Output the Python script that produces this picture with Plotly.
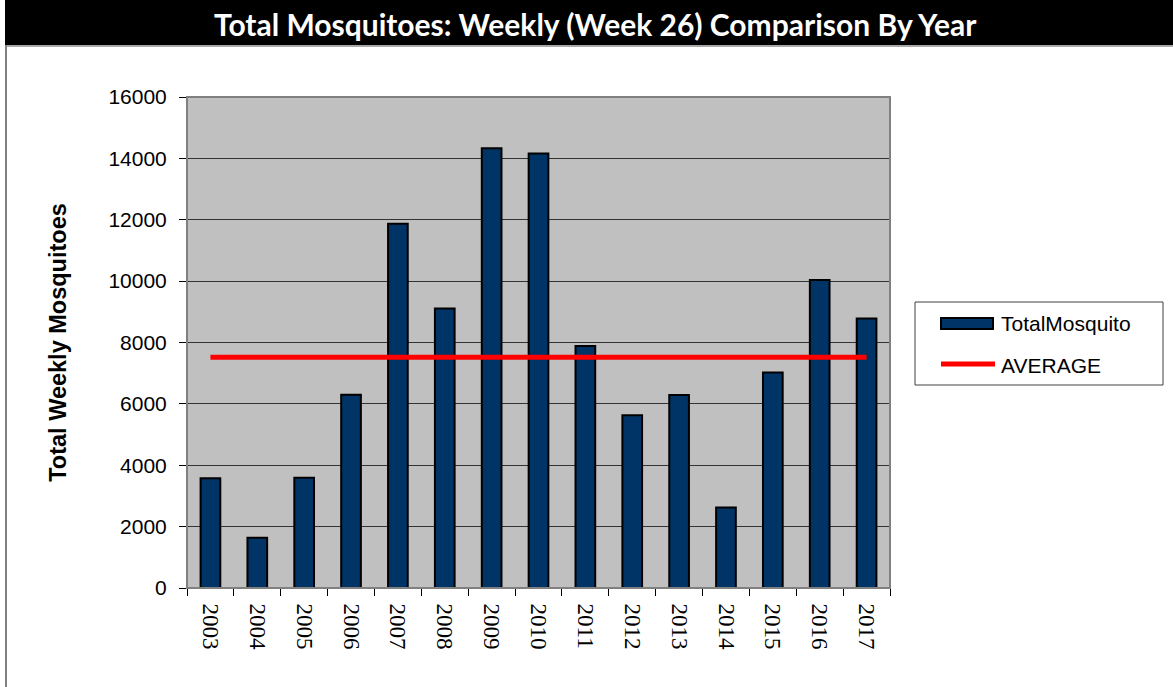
import plotly.graph_objects as go

years = ["2003", "2004", "2005", "2006", "2007", "2008", "2009", "2010",
         "2011", "2012", "2013", "2014", "2015", "2016", "2017"]
total_mosquito = [3580, 1640, 3590, 6300, 11870, 9110, 14330, 14160,
                  7890, 5630, 6290, 2620, 7020, 10040, 8780]
average = [7520] * len(years)

title_text = "Total Mosquitoes: Weekly (Week 26) Comparison By Year"
y_title = "Total Weekly Mosquitoes"
y_ticks = [0, 2000, 4000, 6000, 8000, 10000, 12000, 14000, 16000]

W_PX, H_PX = 1173, 687
L, R, T, B = 187, 890, 97, 588
PW, PH = R - L, B - T


def px(x):
    return (x - L) / PW


def py(y):
    return (B - y) / PH


fig = go.Figure()
fig.add_trace(go.Bar(
    x=years, y=total_mosquito, name="TotalMosquito",
    marker=dict(color="#003366", line=dict(color="#000000", width=2)),
))
fig.add_trace(go.Scatter(
    x=years, y=average, name="AVERAGE", mode="lines",
    line=dict(color="#FF0000", width=5),
))

shapes = [
    # title band
    dict(type="rect", xref="paper", yref="paper", x0=px(5), x1=px(1173),
         y0=py(45), y1=py(0), fillcolor="#000000", line=dict(width=0), layer="above"),
    dict(type="line", xref="paper", yref="paper", x0=px(5), x1=px(1173),
         y0=py(46), y1=py(46), line=dict(color="#A8A8A8", width=2)),
    # outer frame left
    dict(type="line", xref="paper", yref="paper", x0=px(6), x1=px(6),
         y0=py(45), y1=py(687), line=dict(color="#808080", width=2)),
    # plot border
    dict(type="rect", xref="paper", yref="paper", x0=0, x1=1, y0=0, y1=1,
         line=dict(color="#808080", width=2), layer="above"),
    # legend box
    dict(type="rect", xref="paper", yref="paper", x0=px(915), x1=px(1163),
         y0=py(385), y1=py(302), fillcolor="#FFFFFF", line=dict(color="#404040", width=1)),
    dict(type="rect", xref="paper", yref="paper", x0=px(941), x1=px(993),
         y0=py(329), y1=py(318), fillcolor="#003366", line=dict(color="#000000", width=2)),
    dict(type="line", xref="paper", yref="paper", x0=px(941), x1=px(995),
         y0=py(364), y1=py(364), line=dict(color="#FF0000", width=5)),
]

annotations = [
    dict(text="<b>" + title_text + "</b>", xref="paper", yref="paper",
         x=px(595), y=py(24), xanchor="center", yanchor="middle", showarrow=False,
         font=dict(family="Lato", size=30, color="#FFFFFF")),
    dict(text="TotalMosquito", xref="paper", yref="paper", x=px(999), y=py(323),
         xanchor="left", yanchor="middle", showarrow=False,
         font=dict(family="Liberation Sans", size=21, color="#000000")),
    dict(text="AVERAGE", xref="paper", yref="paper", x=px(999), y=py(365),
         xanchor="left", yanchor="middle", showarrow=False,
         font=dict(family="Liberation Sans", size=21, color="#000000")),
]

fig.update_layout(
    width=W_PX, height=H_PX, autosize=False,
    margin=dict(l=L, r=W_PX - R, t=T, b=H_PX - B, pad=0),
    paper_bgcolor="#FFFFFF", plot_bgcolor="#C0C0C0",
    showlegend=False, bargap=0.58,
    shapes=shapes, annotations=annotations,
    font=dict(family="Liberation Sans", color="#000000"),
)
fig.update_xaxes(
    type="category", tickson="boundaries", ticks="outside", ticklen=7,
    tickcolor="#000000", tickangle=90, showline=True, linecolor="#000000",
    linewidth=1, showgrid=False, automargin=False, ticklabelstandoff=10,
    tickfont=dict(family="Liberation Serif", size=23, color="#000000"),
)
fig.update_yaxes(
    range=[0, 16000], tickvals=y_ticks, tickformat="d", ticks="outside", ticklen=7,
    tickcolor="#000000", showline=True, linecolor="#000000", linewidth=1,
    gridcolor="#333333", gridwidth=1, zeroline=False, automargin=False,
    ticklabelstandoff=8,
    tickfont=dict(family="Liberation Sans", size=21, color="#000000"),
    title=dict(text="<b>" + y_title + "</b>", standoff=35,
               font=dict(family="Liberation Sans", size=23.5, color="#000000")),
)

fig.write_html(
    "out.html",
    config={"displayModeBar": False},
    post_script="document.body.style.margin='0';document.body.style.overflow='hidden';",
)
